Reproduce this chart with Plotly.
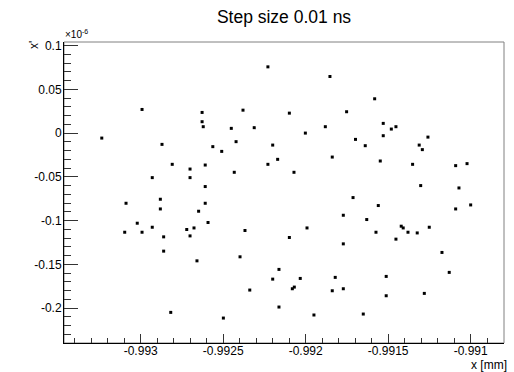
import plotly.graph_objects as go

# x position [mm]
x_mm = [
    -0.992992, -0.992628, -0.992628, -0.992621, -0.993236, -0.992871, -0.992563, -0.992809,
    -0.992609, -0.992701, -0.992930, -0.992701, -0.992609,
    -0.992229, -0.991853, -0.992380, -0.992099, -0.991752, -0.992451, -0.992312, -0.991881,
    -0.992002, -0.992422, -0.991698, -0.992509, -0.992200, -0.992170, -0.991839, -0.992229,
    -0.992433, -0.992071,
    -0.991582, -0.991530, -0.991481, -0.991453, -0.991530, -0.991639, -0.991259, -0.991312,
    -0.991293, -0.991548, -0.991352, -0.991091, -0.991022, -0.991303, -0.991071,
    -0.992881, -0.993089, -0.992609, -0.992881, -0.992649, -0.993021, -0.992592, -0.992930,
    -0.993097, -0.992992, -0.992721, -0.992677, -0.992861, -0.992701, -0.992861, -0.992659,
    -0.992818,
    -0.991713, -0.991772, -0.992368, -0.991992, -0.992099, -0.991772, -0.992398, -0.992162,
    -0.992200, -0.992033, -0.991821, -0.992339, -0.992081, -0.992069, -0.991839, -0.991772,
    -0.992162, -0.991950, -0.992499,
    -0.991560, -0.991630, -0.991091, -0.991000, -0.991421, -0.991409, -0.991574, -0.991380,
    -0.991324, -0.991251, -0.991453, -0.991174, -0.991130, -0.991512, -0.991512, -0.991281,
    -0.991651,
]

# x' in units of 1e-6
xprime_e6 = [
    0.0270, 0.0236, 0.0130, 0.0073, -0.0057, -0.0129, -0.0155, -0.0357,
    -0.0365, -0.0411, -0.0509, -0.0509, -0.0611,
    0.0757, 0.0647, 0.0262, 0.0228, 0.0244, 0.0054, 0.0062, 0.0073,
    0.0000, -0.0098, -0.0072, -0.0209, -0.0137, -0.0300, -0.0274, -0.0357,
    -0.0448, -0.0448,
    0.0392, 0.0111, 0.0046, 0.0073, -0.0030, -0.0144, -0.0046, -0.0137,
    -0.0189, -0.0319, -0.0357, -0.0372, -0.0349, -0.0600, -0.0627,
    -0.0756, -0.0802, -0.0802, -0.0867, -0.0893, -0.1030, -0.1022, -0.1076,
    -0.1133, -0.1133, -0.1102, -0.1084, -0.1186, -0.1175, -0.1349, -0.1460,
    -0.2049,
    -0.0737, -0.0939, -0.1113, -0.1084, -0.1193, -0.1266, -0.1414, -0.1558,
    -0.1669, -0.1661, -0.1649, -0.1794, -0.1779, -0.1760, -0.1802, -0.1779,
    -0.1988, -0.2079, -0.2114,
    -0.0828, -0.0988, -0.0867, -0.0821, -0.1064, -0.1084, -0.1133, -0.1133,
    -0.1141, -0.1076, -0.1212, -0.1364, -0.1592, -0.1638, -0.1859, -0.1832,
    -0.2068,
]

x_tickvals = [-0.993, -0.9925, -0.992, -0.9915, -0.991]
x_ticktext = ["-0.993", "-0.9925", "-0.992", "-0.9915", "-0.991"]
y_tickvals = [0.1, 0.05, 0.0, -0.05, -0.1, -0.15, -0.2]
y_ticktext = ["0.1", "0.05", "0", "-0.05", "-0.1", "-0.15", "-0.2"]

FONT = "Liberation Sans, Arial, sans-serif"
W, H = 514, 372
L, R, T, B = 64, 10, 42, 29
PW, PH = W - L - R, H - T - B


def px_x(p):
    return (p - L) / PW


def px_y(p):
    return (H - B - p) / PH


fig = go.Figure()
fig.add_trace(go.Scatter(
    x=x_mm, y=xprime_e6, mode="markers",
    marker=dict(symbol="square", size=3, color="black", line=dict(width=0)),
    showlegend=False, hoverinfo="x+y",
))

fig.update_layout(
    width=W, height=H,
    margin=dict(l=L, r=R, t=T, b=B, pad=0),
    paper_bgcolor="white", plot_bgcolor="white",
    font=dict(family=FONT, size=12, color="black"),
    title=dict(text="Step size 0.01 ns", x=0.5, xref="paper", xanchor="center",
               y=1 - 17 / H, yref="container", yanchor="middle",
               font=dict(family=FONT, size=17.5, color="black")),
    xaxis=dict(
        range=[-0.993465, -0.990798], showgrid=False, zeroline=False,
        showline=True, linecolor="black", linewidth=1, mirror=False,
        ticks="inside", ticklen=9, tickwidth=1, tickcolor="#333",
        tickmode="array", tickvals=x_tickvals, ticktext=x_ticktext,
        tickfont=dict(family=FONT, size=12, color="black"),
        ticklabelstandoff=-3,
        minor=dict(ticks="inside", ticklen=5, tickwidth=1, tickcolor="#333",
                   tickmode="linear", tick0=-0.993, dtick=0.0001, showgrid=False),
    ),
    yaxis=dict(
        range=[-0.2399, 0.1041], showgrid=False, zeroline=False,
        showline=True, linecolor="black", linewidth=1, mirror=False,
        ticks="inside", ticklen=14, tickwidth=1, tickcolor="#333",
        tickmode="array", tickvals=y_tickvals, ticktext=y_ticktext,
        tickfont=dict(family=FONT, size=12, color="black"),
        ticklabelstandoff=-1,
        minor=dict(ticks="inside", ticklen=7, tickwidth=1, tickcolor="#333",
                   tickmode="linear", tick0=0.0, dtick=0.01, showgrid=False),
    ),
    shapes=[dict(type="rect", xref="paper", yref="paper", x0=0, x1=1, y0=0, y1=1,
                 line=dict(color="#808080", width=1), layer="below")],
    annotations=[
        dict(text="x [mm]", xref="paper", yref="paper", x=px_x(509), y=px_y(365),
             xanchor="right", yanchor="middle", showarrow=False,
             font=dict(family=FONT, size=12, color="black")),
        dict(text="x'", xref="paper", yref="paper", x=px_x(33.5), y=px_y(45.5),
             xanchor="center", yanchor="middle", textangle=-90, showarrow=False,
             font=dict(family=FONT, size=12, color="black")),
        dict(text="×10<sup>-6</sup>", xref="paper", yref="paper", x=px_x(63), y=px_y(42),
             xanchor="left", yanchor="bottom", showarrow=False,
             font=dict(family=FONT, size=10, color="black")),
    ],
)

fig.write_html(
    "out.html",
    config={"displayModeBar": False},
    post_script="document.body.style.margin='0';document.body.style.padding='0';"
                "document.body.style.overflow='hidden';",
)
